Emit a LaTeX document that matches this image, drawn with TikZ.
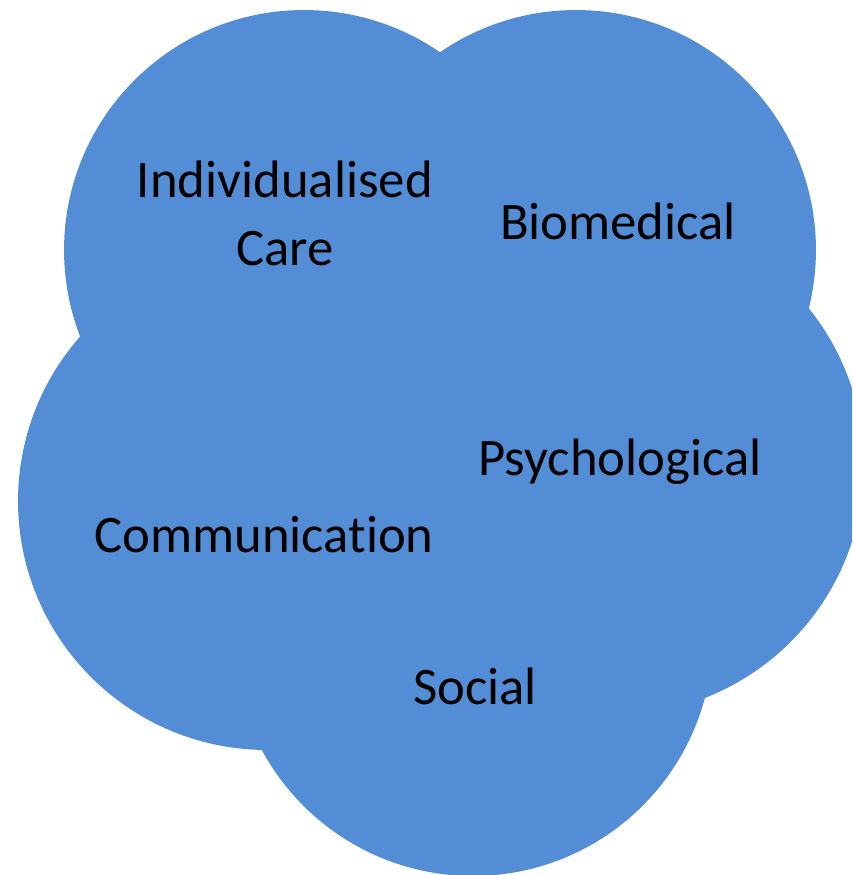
\documentclass[tikz,border=0pt]{standalone}
\usepackage{fontspec}
\setmainfont{Carlito}[Ligatures=NoCommon]
\usepackage{tikz}
\usetikzlibrary{positioning}
\definecolor{bubbleblue}{RGB}{83,141,213}
\tikzset{
    bubble/.style = {
        shape=circle,
        fill=bubbleblue,
        inner sep=0pt
    },
    label/.style = {
        inner sep=0pt,
        anchor=base,
        align=center,
        font=\fontsize{30}{38.7}\selectfont
    },
}
\begin{document}
\begin{tikzpicture}[x=0.02cm,y=-0.02cm]
                \useasboundingbox (0,0) rectangle (852,875);
                \clip (0,0) rectangle (852,875);

                \node[bubble, minimum size=9.6cm] (indiv) at (304,250) {};
                \node[bubble, minimum size=9.6cm] (bio) at (576,250) {};
                \node[bubble, minimum size=9.96cm] (comm) at (267,501) {};
                \node[bubble, minimum size=10cm] (psych) at (614,465) {};
                \node[bubble, minimum size=9.6cm] (soc) at (473,636) {};

                % base of the two-line label sits on its last line
                \node[label] (indivtext) at (285,265) {Individualised\\Care};
                \node[label] (biotext) at (618,239) {Biomedical};
                \node[label] (psychtext) at (620,475) {Psychological};
                \node[label] (commtext) at (264,552) {Communication};
                \node[label] (soctext) at (475,704) {Social};
            \end{tikzpicture}
\end{document}
